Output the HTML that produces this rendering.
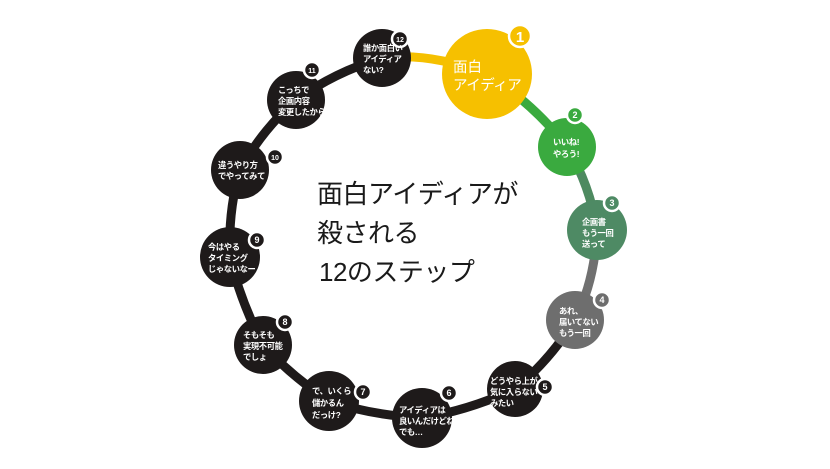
<!DOCTYPE html>
<html><head><meta charset="utf-8"><style>
html,body{margin:0;padding:0;background:#fff;}
svg{display:block;}
text{font-family:"Liberation Sans","Noto Sans CJK JP",sans-serif;}
.t{fill:#fff;font-size:8.3px;font-weight:bold;letter-spacing:-0.4px;}
.b{fill:#fff;font-size:9px;font-weight:bold;}
</style></head><body>
<svg width="830" height="469" viewBox="0 0 830 469">
<g stroke-width="9" fill="none" stroke-linecap="round">
<path d="M382 58 Q430 52 487 74" stroke="#f5c000"/>
<path d="M487 74 Q535 105 567 147" stroke="#3aaa3f"/>
<path d="M567 147 Q590 185 597 230" stroke="#4e8a60"/>
<path d="M597 230 Q595 280 575 320" stroke="#707070"/>
<path d="M575 320 Q550 360 515 389 Q470 410 422 418 Q370 415 329 401 Q290 375 263 345 Q240 300 230 257 Q228 210 240 170 Q262 130 296 100 Q335 72 382 58" stroke="#1e1a1a"/>
</g>
<circle cx="487" cy="74" r="45" fill="#f6c000"/>
<circle cx="567" cy="147" r="29" fill="#3aaa3f"/>
<circle cx="597" cy="230" r="30" fill="#4e8a64"/>
<circle cx="575" cy="320" r="29" fill="#6e6e6e"/>
<g fill="#1e1a1a">
<circle cx="515" cy="389" r="28"/>
<circle cx="422" cy="418" r="30"/>
<circle cx="329" cy="401" r="30"/>
<circle cx="263" cy="345" r="29"/>
<circle cx="230" cy="257" r="30"/>
<circle cx="240" cy="170" r="29"/>
<circle cx="296" cy="100" r="29"/>
<circle cx="382" cy="58" r="29"/>
</g>
<g stroke="#fff" stroke-width="2.5">
<circle cx="520" cy="36" r="11" fill="#f6c000"/>
<circle cx="575" cy="115" r="8" fill="#3aaa3f"/>
<circle cx="612" cy="203" r="8" fill="#4e8a64"/>
<circle cx="602" cy="300" r="8" fill="#6e6e6e"/>
<circle cx="545" cy="387" r="8" fill="#1e1a1a"/>
<circle cx="449" cy="393" r="8" fill="#1e1a1a"/>
<circle cx="363" cy="392" r="8" fill="#1e1a1a"/>
<circle cx="285" cy="322" r="8" fill="#1e1a1a"/>
<circle cx="257" cy="240" r="8" fill="#1e1a1a"/>
<circle cx="275" cy="157" r="8" fill="#1e1a1a"/>
<circle cx="312" cy="70" r="8" fill="#1e1a1a"/>
<circle cx="400" cy="39" r="8" fill="#1e1a1a"/>
</g>
<g text-anchor="middle" class="b">
<text x="520" y="42" style="font-size:15px">1</text>
<text x="575" y="118">2</text>
<text x="612" y="206">3</text>
<text x="602" y="303">4</text>
<text x="545" y="390">5</text>
<text x="449" y="396">6</text>
<text x="363" y="395">7</text>
<text x="285" y="325">8</text>
<text x="257" y="243">9</text>
<text x="275" y="160" style="font-size:7px">10</text>
<text x="312" y="73" style="font-size:7px">11</text>
<text x="400" y="42" style="font-size:7px">12</text>
</g>
<text x="453" y="72" fill="#fff" font-size="14.5">面白</text>
<text x="453" y="90" fill="#fff" font-size="14.5" letter-spacing="-0.5">アイディア</text>
<g class="t">
<text x="553" y="145">いいね!</text><text x="553" y="157">やろう!</text>
<text x="582" y="225">企画書</text><text x="582" y="236">もう一回</text><text x="582" y="247">送って</text>
<text x="559" y="314">あれ、</text><text x="559" y="325">届いてない</text><text x="559" y="336">もう一回</text>
<text x="490" y="384">どうやら上が</text><text x="490" y="395">気に入らない</text><text x="490" y="406">みたい</text>
<text x="399" y="413">アイディアは</text><text x="399" y="424">良いんだけどね</text><text x="399" y="435">でも…</text>
<text x="312" y="394">で、いくら</text><text x="312" y="406">儲かるん</text><text x="312" y="418">だっけ?</text>
<text x="243" y="338">そもそも</text><text x="243" y="349">実現不可能</text><text x="243" y="360">でしょ</text>
<text x="208" y="250">今はやる</text><text x="208" y="261">タイミング</text><text x="208" y="272">じゃないなー</text>
<text x="218" y="168">違うやり方</text><text x="218" y="179">でやってみて</text>
<text x="278" y="93">こっちで</text><text x="278" y="104">企画内容</text><text x="278" y="115">変更したから</text>
<text x="363" y="51">誰か面白い</text><text x="363" y="62">アイディア</text><text x="363" y="73">ない?</text>
</g>
<g fill="#1a1a1a" font-size="26" letter-spacing="-0.5">
<text x="317" y="203">面白アイディアが</text>
<text x="317" y="242">殺される</text>
<text x="319" y="281">12のステップ</text>
</g>
</svg>
</body></html>
